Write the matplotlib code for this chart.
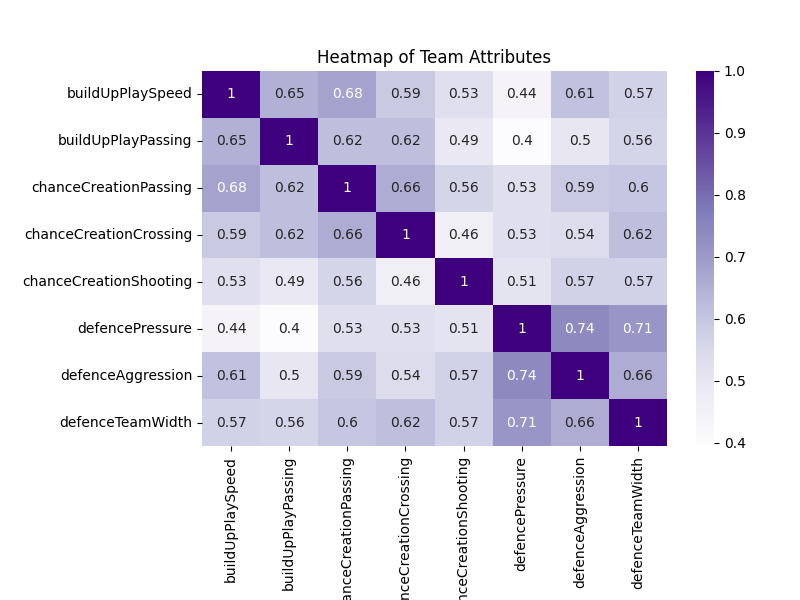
import matplotlib
matplotlib.use("Agg")
import matplotlib.pyplot as plt
import seaborn as sns
import numpy as np
import pandas as pd

labels = ["buildUpPlaySpeed", "buildUpPlayPassing", "chanceCreationPassing",
          "chanceCreationCrossing", "chanceCreationShooting", "defencePressure",
          "defenceAggression", "defenceTeamWidth"]

corr = [
    [1, 0.65, 0.68, 0.59, 0.53, 0.44, 0.61, 0.57],
    [0.65, 1, 0.62, 0.62, 0.49, 0.396, 0.50, 0.56],
    [0.68, 0.62, 1, 0.66, 0.56, 0.53, 0.59, 0.60],
    [0.59, 0.62, 0.66, 1, 0.46, 0.53, 0.54, 0.62],
    [0.53, 0.49, 0.56, 0.46, 1, 0.51, 0.57, 0.57],
    [0.44, 0.396, 0.53, 0.53, 0.51, 1, 0.74, 0.71],
    [0.61, 0.50, 0.59, 0.54, 0.57, 0.74, 1, 0.66],
    [0.57, 0.56, 0.60, 0.62, 0.57, 0.71, 0.66, 1],
]

df = pd.DataFrame(np.array(corr), index=labels, columns=labels)

fig = plt.figure(figsize=(8, 6), dpi=100)
ax = fig.add_axes([0.2525, 0.2567, 0.5813, 0.625])
cax = fig.add_axes([0.87, 0.2583, 0.0225, 0.6234])

sns.heatmap(df, annot=True, cmap="Purples", ax=ax, cbar_ax=cax)
ax.set_title("Heatmap of Team Attributes")

fig.savefig("out.png", dpi=100)
